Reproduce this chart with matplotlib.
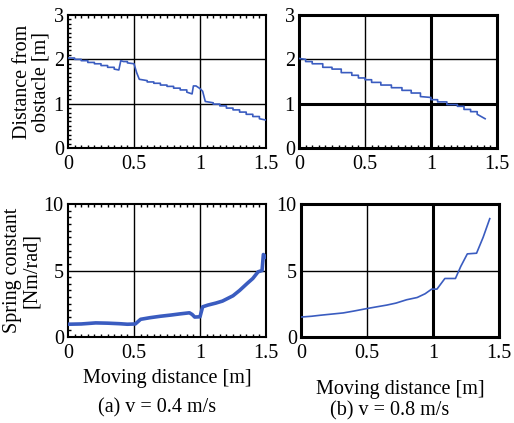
import matplotlib
matplotlib.use("Agg")
import matplotlib.pyplot as plt
from matplotlib.ticker import MultipleLocator

plt.rcParams['font.family'] = ['Liberation Serif', 'DejaVu Serif']

# (a) v = 0.4 m/s : distance from obstacle
xa_d = [0.0, 0.05, 0.05, 0.10, 0.10, 0.15, 0.15, 0.20, 0.20, 0.25, 0.25, 0.30, 0.30, 0.35,
        0.35, 0.385, 0.40, 0.42, 0.45, 0.45, 0.50, 0.52, 0.54, 0.60, 0.60, 0.65, 0.65,
        0.70, 0.70, 0.75, 0.75, 0.80, 0.80, 0.85, 0.85, 0.90, 0.90, 0.94, 0.95, 0.97,
        1.00, 1.02, 1.04, 1.10, 1.10, 1.15, 1.15, 1.20, 1.20, 1.25, 1.25, 1.30, 1.30,
        1.35, 1.35, 1.40, 1.40, 1.45, 1.45, 1.50]
ya_d = [2.03, 2.03, 2.00, 2.00, 1.97, 1.97, 1.93, 1.93, 1.90, 1.90, 1.86, 1.86, 1.82, 1.82,
        1.78, 1.76, 1.97, 1.95, 1.95, 1.92, 1.90, 1.70, 1.55, 1.52, 1.49, 1.49, 1.46,
        1.46, 1.42, 1.42, 1.39, 1.39, 1.35, 1.35, 1.31, 1.31, 1.26, 1.22, 1.40, 1.40,
        1.34, 1.28, 1.05, 1.02, 0.99, 0.99, 0.95, 0.95, 0.90, 0.90, 0.86, 0.86, 0.81,
        0.81, 0.76, 0.76, 0.71, 0.71, 0.66, 0.63]

# (b) v = 0.8 m/s : distance from obstacle
xb_d = [0.0, 0.05, 0.05, 0.10, 0.10, 0.18, 0.18, 0.25, 0.25, 0.32, 0.32, 0.40, 0.40, 0.45,
        0.45, 0.50, 0.50, 0.55, 0.55, 0.62, 0.62, 0.70, 0.70, 0.78, 0.78, 0.85, 0.85,
        0.92, 0.92, 1.00, 1.00, 1.05, 1.05, 1.12, 1.12, 1.20, 1.20, 1.25, 1.25, 1.30,
        1.30, 1.35, 1.35, 1.41]
yb_d = [2.02, 2.00, 1.95, 1.95, 1.90, 1.90, 1.82, 1.82, 1.78, 1.78, 1.70, 1.70, 1.64, 1.64,
        1.58, 1.58, 1.54, 1.54, 1.48, 1.48, 1.42, 1.42, 1.36, 1.36, 1.30, 1.30, 1.24,
        1.24, 1.16, 1.14, 1.09, 1.09, 1.04, 1.04, 0.98, 0.98, 0.94, 0.94, 0.87, 0.87,
        0.82, 0.82, 0.76, 0.66]

# (a) v = 0.4 m/s : spring constant
xa_k = [0.0, 0.10, 0.21, 0.30, 0.39, 0.45, 0.51, 0.55, 0.62, 0.70, 0.78, 0.85, 0.92, 0.94,
        0.96, 1.00, 1.02, 1.06, 1.12, 1.17, 1.25, 1.30, 1.36, 1.40, 1.44, 1.47, 1.48, 1.50]
ya_k = [0.96, 0.98, 1.06, 1.04, 1.00, 0.96, 0.98, 1.33, 1.45, 1.56, 1.65, 1.74, 1.82, 1.70,
        1.50, 1.52, 2.27, 2.40, 2.55, 2.70, 3.10, 3.50, 4.05, 4.40, 4.90, 5.00, 6.20, 6.00]

# (b) v = 0.8 m/s : spring constant
xb_k = [0.0, 0.08, 0.15, 0.25, 0.32, 0.40, 0.50, 0.58, 0.65, 0.72, 0.80, 0.88, 0.94,
        0.99, 1.03, 1.09, 1.17, 1.21, 1.26, 1.33, 1.38, 1.43]
yb_k = [1.50, 1.56, 1.64, 1.74, 1.81, 1.95, 2.14, 2.28, 2.40, 2.55, 2.80, 2.97, 3.25,
        3.60, 3.60, 4.40, 4.40, 5.30, 6.25, 6.30, 7.50, 8.90]

xticks = [0, 0.5, 1, 1.5]
xtick_labels = ['0', '0.5', '1', '1.5']
yticks_d = [0, 1, 2, 3]
yticks_k = [0, 5, 10]

xlabel = 'Moving distance [m]'
ylabel_d = 'Distance from\nobstacle [m]'
ylabel_k = 'Spring constant\n[Nm/rad]'
captions = ['(a) v = 0.4 m/s', '(b) v = 0.8 m/s']

blue = '#3a5cc0'
W, H = 514, 423
fig = plt.figure(figsize=(W / 100, H / 100), dpi=100)

def ax_at(x0, y0, x1, y1):
    return fig.add_axes([x0 / W, 1 - y1 / H, (x1 - x0) / W, (y1 - y0) / H])

ax_tl = ax_at(68, 15, 266, 148)
ax_tr = ax_at(299, 15, 497, 148)
ax_bl = ax_at(68, 204, 266, 337)
ax_br = ax_at(301, 204, 499, 337)

def style(ax, yt, ymax, right=False, minor=True):
    ax.set_xlim(0, 1.5)
    ax.set_ylim(0, ymax)
    ax.set_xticks(xticks)
    ax.set_xticklabels(xtick_labels)
    ax.set_yticks(yt)
    ax.tick_params(axis='both', which='major', length=0, labelsize=14.5, pad=3)
    ax.tick_params(axis='x', pad=5)
    for v in xticks[1:-1]:
        ax.axvline(v, color='black', lw=1.0, zorder=1)
    for v in yt[1:-1]:
        ax.axhline(v, color='black', lw=1.0, zorder=1)
    for s in ax.spines.values():
        s.set_linewidth(2.2 if right else 1.5)
    if minor:
        ax.xaxis.set_minor_locator(MultipleLocator(0.05))
        ax.yaxis.set_minor_locator(MultipleLocator(yt[1] / 10))
        ax.tick_params(which='minor', direction='in', length=2.5, width=1.0,
                       top=True, bottom=True, left=True, right=False)

style(ax_tl, yticks_d, 3)
style(ax_tr, yticks_d, 3, right=True, minor=False)
ax_tr.axvline(1.0, color='black', lw=2.2, zorder=1)
ax_tr.axhline(1.0, color='black', lw=2.2, zorder=1)
ax_tr.xaxis.set_minor_locator(MultipleLocator(0.05))
ax_tr.tick_params(axis='x', which='minor', direction='in', length=2.5, width=1.0)
style(ax_bl, yticks_k, 10)
style(ax_br, yticks_k, 10, right=True, minor=False)
ax_br.axvline(1.0, color='black', lw=2.2, zorder=1)

ax_tl.plot(xa_d, ya_d, color=blue, lw=1.2, zorder=3)
ax_tr.plot(xb_d, yb_d, color=blue, lw=1.2, zorder=3)
ax_bl.plot(xa_k, ya_k, color=blue, lw=2.6, zorder=3)
ax_br.plot(xb_k, yb_k, color=blue, lw=1.2, zorder=3)

ax_tl.set_ylabel(ylabel_d, fontsize=14.5, linespacing=1.0, labelpad=2)
ax_bl.set_ylabel(ylabel_k, fontsize=14.5, linespacing=1.0, labelpad=2)
ax_bl.set_xlabel(xlabel, fontsize=14.5, labelpad=4)
ax_br.set_xlabel(xlabel, fontsize=14.5, labelpad=12)

fig.text(157 / W, 1 - 408 / H, captions[0], fontsize=14.5, ha='center', va='center')
fig.text(390 / W, 1 - 411 / H, captions[1], fontsize=14.5, ha='center', va='center')

fig.savefig('out.png', dpi=100)
